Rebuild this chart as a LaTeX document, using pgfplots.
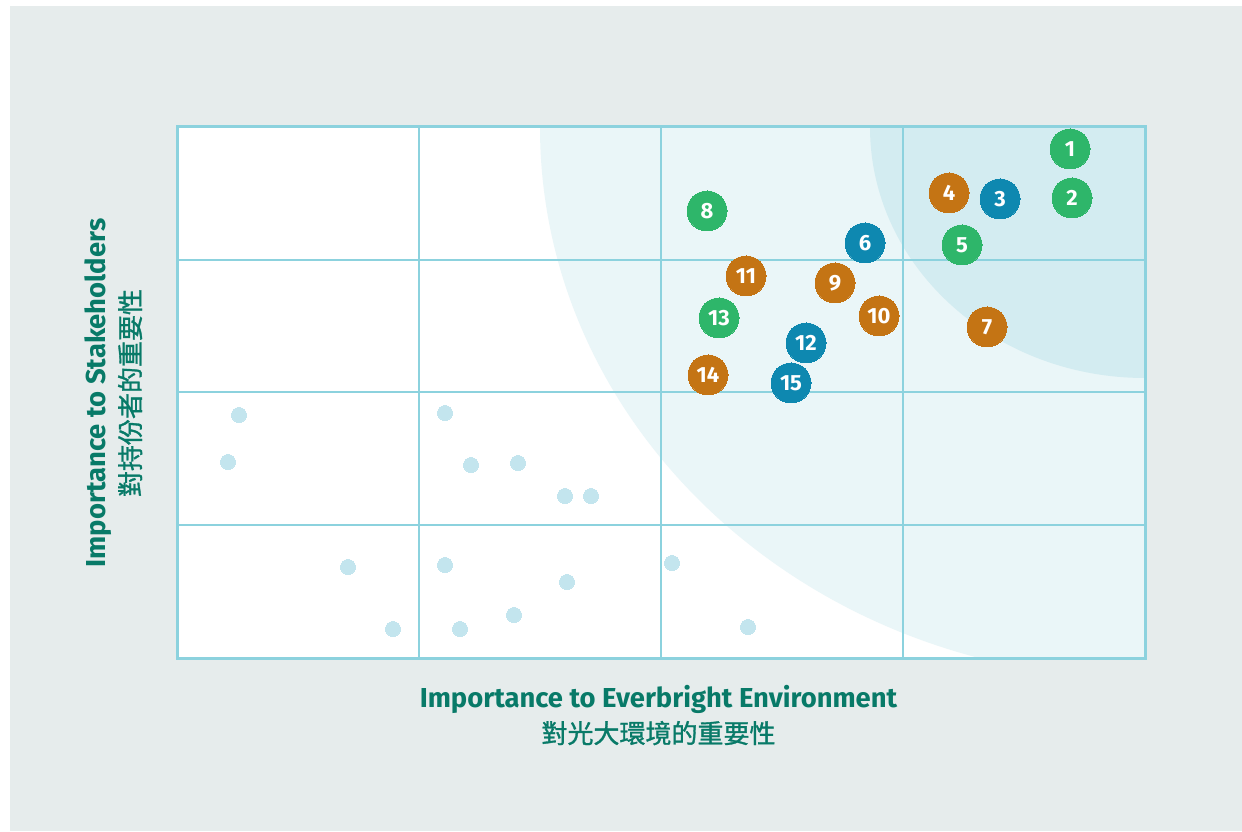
\documentclass[border=0pt]{standalone}
\usepackage{fontspec}
\setmainfont{Fira Sans}
\newfontfamily\cjk{Noto Sans CJK TC}[FakeBold=1.2]
\usepackage{pgfplots}
\pgfplotsset{compat=1.18}
\definecolor{panel}{RGB}{230,236,236}
\definecolor{gridc}{RGB}{140,210,222}
\definecolor{lightfill}{RGB}{234,246,248}
\definecolor{midfill}{RGB}{211,236,241}
\definecolor{gr}{RGB}{46,182,106}
\definecolor{org}{RGB}{196,116,20}
\definecolor{blu}{RGB}{14,136,176}
\definecolor{dot}{RGB}{195,229,238}
\definecolor{lab}{RGB}{8,122,104}

\pgfplotstableread{
x y lab
893 509 1
895 460 2
785 413 5
530 447 8
542 340 13
}\greenpts
\pgfplotstableread{
x y lab
772 465 4
810 331 7
658 375 9
702 342 10
569 382 11
531 283 14
}\orangepts
\pgfplotstableread{
x y lab
823 459 3
688 415 6
629 315 12
614 275 15
}\bluepts

\begin{document}
\begin{tikzpicture}
% page and background panel
\path (0,0) rectangle (621pt,415.5pt);
\fill[panel] (5pt,0pt) rectangle (621pt,412.5pt);
\fill[white] (88.5pt,86.5pt) rectangle (572.5pt,352pt);
\begin{scope}
\clip (88.5pt,86.5pt) rectangle (572.5pt,352pt);
\fill[lightfill] (572.5pt,352pt) ellipse [x radius=302.5pt, y radius=276pt];
\fill[midfill] (572.5pt,352pt) ellipse [x radius=137.5pt, y radius=125.5pt];
\end{scope}
\begin{axis}[
  at={(88.5pt,86.5pt)}, anchor=south west,
  scale only axis, width=484pt, height=265.5pt,
  xmin=0, xmax=968, ymin=0, ymax=531,
  xtick={242,484,726}, ytick={132.75,265.5,398.25},
  xticklabels={}, yticklabels={},
  major tick length=0pt,
  grid=major, grid style={gridc, line width=1pt},
  axis line style={gridc, line width=1.5pt},
  clip=false,
  nodes near coords style={anchor=center, text=white, font=\bfseries\fontsize{11}{12}\selectfont},
]
\addplot[dot, only marks, mark=*, mark size=3.75pt, mark options={draw=dot, fill=dot, line width=0pt}] coordinates {
(62,243) (51,196) (268,245) (294,193) (341,195) (388,162) (414,162)
(171,91) (268,93) (390,76) (495,95) (216,29) (283,29) (337,43) (571,31)
};

\addplot[gr, only marks, mark=*, mark size=10pt, mark options={draw=gr, fill=gr, line width=0pt},
  point meta=explicit symbolic, nodes near coords] table[x=x, y=y, meta=lab] {\greenpts};
\addplot[org, only marks, mark=*, mark size=10pt, mark options={draw=org, fill=org, line width=0pt},
  point meta=explicit symbolic, nodes near coords] table[x=x, y=y, meta=lab] {\orangepts};
\addplot[blu, only marks, mark=*, mark size=10pt, mark options={draw=blu, fill=blu, line width=0pt},
  point meta=explicit symbolic, nodes near coords] table[x=x, y=y, meta=lab] {\bluepts};
\end{axis}

\node[anchor=base, text=lab, font=\bfseries\fontsize{13.7}{15}\selectfont] at (329.25pt,62pt) {Importance to Everbright Environment};
\node[anchor=base, text=lab, font=\cjk\fontsize{13}{15}\selectfont] at (329.25pt,44pt) {對光大環境的重要性};
\node[rotate=90, anchor=base, text=lab, font=\bfseries\fontsize{13.7}{15}\selectfont] at (52.5pt,219pt) {Importance to Stakeholders};
\node[rotate=90, anchor=base, text=lab, font=\cjk\fontsize{13}{15}\selectfont] at (70pt,219pt) {對持份者的重要性};
\end{tikzpicture}
\end{document}
